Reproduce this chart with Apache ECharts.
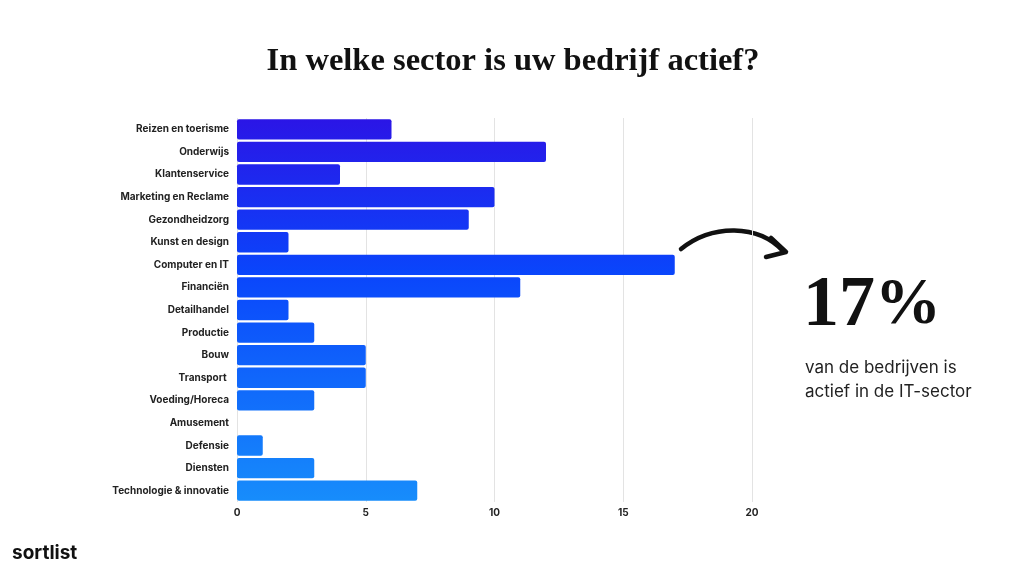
<!DOCTYPE html>
<html>
<head>
<meta charset="utf-8">
<script src="https://cdn.jsdelivr.net/npm/echarts@6/dist/echarts.min.js"></script>
<style>
  html, body { margin: 0; padding: 0; background: #fff; }
  #chart { width: 1024px; height: 576px; }
</style>
</head>
<body>
<div id="chart"></div>
<script>
const sectors = [
  'Reizen en toerisme', 'Onderwijs', 'Klantenservice', 'Marketing en Reclame',
  'Gezondheidzorg', 'Kunst en design', 'Computer en IT', 'Financiën',
  'Detailhandel', 'Productie', 'Bouw', 'Transport ', 'Voeding/Horeca',
  'Amusement', 'Defensie', 'Diensten', 'Technologie & innovatie'
];
const counts = [6, 12, 4, 10, 9, 2, 17, 11, 2, 3, 5, 5, 3, 0, 1, 3, 7];
const xTicks = [0, 5, 10, 15, 20];

const chart = echarts.init(document.getElementById('chart'), null, { renderer: 'canvas' });

chart.setOption({
  backgroundColor: '#fff',
  animation: false,
  title: {
    text: 'In welke sector is uw bedrijf actief?',
    left: 508,
    textAlign: 'center',
    top: 40,
    textStyle: {
      fontFamily: 'Liberation Serif',
      fontWeight: 'bold',
      fontSize: 32.5,
      color: '#111'
    }
  },
  grid: { left: 237, right: 272, top: 118, bottom: 74, containLabel: false },
  xAxis: {
    type: 'value',
    min: xTicks[0],
    max: xTicks[xTicks.length - 1],
    interval: 5,
    axisLine: { show: false },
    axisTick: { show: false },
    splitLine: { show: true, lineStyle: { color: '#e3e3e3', width: 1 } },
    axisLabel: {
      margin: 6,
      fontFamily: 'Inter',
      fontWeight: 'bold',
      fontSize: 10,
      color: '#222'
    }
  },
  yAxis: {
    type: 'category',
    inverse: true,
    data: sectors,
    axisLine: { show: false },
    axisTick: { show: false },
    axisLabel: {
      margin: 8,
      fontFamily: 'Inter',
      fontWeight: 'bold',
      fontSize: 10,
      color: '#222'
    }
  },
  series: [{
    type: 'bar',
    data: counts,
    barCategoryGap: '10%',
    itemStyle: {
      borderRadius: 2,
      color: {
        type: 'linear', x: 0, y: 118, x2: 0, y2: 502, global: true,
        colorStops: [
          { offset: 0, color: '#2b15e6' },
          { offset: 0.4, color: '#0a45fb' },
          { offset: 1, color: '#178dfb' }
        ]
      }
    }
  }],
  graphic: [
    {
      type: 'bezierCurve',
      shape: { x1: 681, y1: 249, cpx1: 712, cpy1: 224, cpx2: 758, cpy2: 224, x2: 783, y2: 251 },
      style: { stroke: '#111', lineWidth: 4.5, fill: null, lineCap: 'round' }
    },
    {
      type: 'polyline',
      shape: { points: [[771, 238], [786, 252], [766, 257]] },
      style: { stroke: '#111', lineWidth: 4.5, fill: null, lineCap: 'round', lineJoin: 'round' }
    },
    {
      type: 'text',
      left: 803,
      top: 270,
      style: {
        text: '{a|17}{b|%}',
        rich: {
          a: { fontFamily: 'Liberation Serif', fontWeight: 'bold', fontSize: 72, fill: '#111' },
          b: { fontFamily: 'Liberation Serif', fontWeight: 'bold', fontSize: 66, fill: '#111' }
        }
      }
    },
    {
      type: 'text',
      left: 805,
      top: 356,
      style: {
        text: 'van de bedrijven is\nactief in de IT-sector',
        fontFamily: 'Inter',
        fontSize: 17,
        lineHeight: 24,
        fill: '#222'
      }
    },
    {
      type: 'text',
      left: 12,
      top: 544,
      style: {
        text: 'sortlist',
        fontFamily: 'Inter',
        fontWeight: 'bold',
        fontSize: 19,
        fill: '#111'
      }
    }
  ]
});
</script>
</body>
</html>
